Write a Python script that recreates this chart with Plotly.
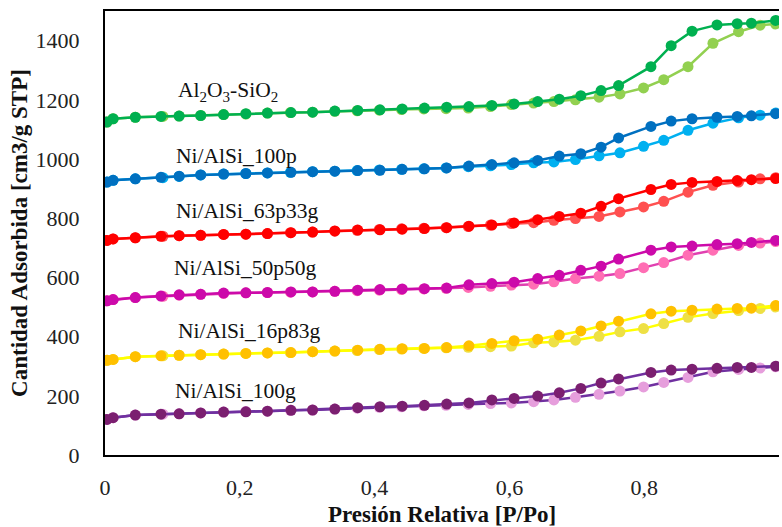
import plotly.graph_objects as go

# Relative pressure points
ads_x = [0.003, 0.012, 0.045, 0.086, 0.110, 0.142, 0.176, 0.209, 0.241, 0.275, 0.308, 0.341,
         0.374, 0.407, 0.440, 0.473, 0.506, 0.539, 0.572, 0.603, 0.636, 0.666, 0.698, 0.733,
         0.764, 0.799, 0.829, 0.865, 0.902, 0.940, 0.972, 0.995]
des_x = [0.995, 0.959, 0.938, 0.908, 0.871, 0.840, 0.810, 0.762, 0.736, 0.706, 0.674, 0.642,
         0.607, 0.574, 0.540, 0.507, 0.474, 0.441, 0.408, 0.375, 0.341, 0.308, 0.276, 0.241,
         0.209, 0.176, 0.142, 0.110, 0.083, 0.045, 0.012, 0.003]

# Adsorption branches
alsi_ads = [1125, 1136, 1141, 1144, 1145, 1147, 1150, 1152, 1155, 1157, 1158, 1161, 1163, 1165, 1167, 1169,
            1170, 1172, 1177, 1184, 1189, 1194, 1200, 1209, 1220, 1240, 1268, 1312, 1391, 1430, 1452, 1456]
p100_ads = [922, 928, 933, 937, 941, 946, 949, 951, 953, 955, 957, 959, 961, 963, 965, 967,
            970, 974, 977, 981, 987, 990, 998, 1011, 1021, 1043, 1063, 1097, 1121, 1139, 1148, 1155]
p63_ads = [725, 730, 734, 739, 741, 742, 745, 746, 748, 751, 753, 756, 759, 762, 764, 766,
           768, 772, 777, 782, 785, 793, 799, 806, 821, 838, 857, 888, 911, 922, 933, 937]
p50_ads = [521, 525, 532, 536, 540, 543, 546, 548, 549, 550, 551, 553, 555, 557, 559, 561,
           563, 566, 570, 574, 577, 585, 596, 604, 613, 633, 650, 675, 692, 708, 716, 721]
p16_ads = [320, 323, 332, 335, 337, 339, 341, 343, 345, 346, 349, 351, 353, 356, 358, 360,
           362, 364, 366, 368, 379, 382, 388, 401, 416, 427, 444, 465, 478, 488, 495, 500]
g100_ads = [120, 126, 135, 138, 139, 142, 145, 147, 148, 151, 152, 155, 158, 161, 163, 166,
            168, 171, 174, 176, 180, 186, 195, 205, 216, 230, 245, 262, 281, 289, 294, 298]

# Desorption branches
alsi_des = [1468, 1459, 1457, 1453, 1432, 1383, 1312, 1248, 1231, 1214, 1202, 1194, 1186, 1181, 1177, 1175,
            1172, 1169, 1166, 1164, 1162, 1158, 1157, 1155, 1153, 1150, 1147, 1145, 1144, 1141, 1136, 1125]
p100_des = [1153, 1146, 1144, 1141, 1136, 1128, 1110, 1071, 1040, 1018, 1010, 995, 987, 981, 976, 970,
            967, 965, 962, 961, 959, 957, 955, 953, 951, 949, 946, 942, 938, 933, 928, 922]
p63_des = [934, 930, 927, 924, 921, 914, 897, 866, 840, 817, 806, 795, 784, 777, 773, 768,
           765, 763, 761, 760, 757, 753, 751, 748, 746, 745, 742, 741, 739, 734, 730, 725]
p50_des = [725, 718, 714, 711, 706, 703, 692, 662, 638, 624, 607, 596, 584, 579, 575, 564,
           562, 561, 559, 557, 553, 551, 551, 549, 548, 547, 543, 541, 537, 532, 525, 521]
p16_des = [505, 496, 495, 493, 489, 486, 477, 452, 436, 419, 405, 391, 386, 377, 369, 363,
           360, 359, 357, 354, 351, 349, 346, 345, 343, 341, 339, 337, 335, 332, 323, 320]
g100_des = [300, 296, 296, 293, 290, 287, 279, 257, 243, 225, 210, 199, 191, 186, 176, 172,
            168, 165, 163, 160, 155, 152, 151, 148, 146, 145, 142, 139, 138, 135, 126, 120]

labels = ["Al<sub>2</sub>O<sub>3</sub>-SiO<sub>2</sub>", "Ni/AlSi_100p", "Ni/AlSi_63p33g",
          "Ni/AlSi_50p50g", "Ni/AlSi_16p83g", "Ni/AlSi_100g"]
label_y = [1228, 1009, 823, 631, 418, 216]
label_x = [0.105, 0.102, 0.102, 0.099, 0.105, 0.101]

x_tickvals = [0, 0.2, 0.4, 0.6, 0.8]
x_ticktext = ["0", "0,2", "0,4", "0,6", "0,8"]
y_tickvals = [0, 200, 400, 600, 800, 1000, 1200, 1400]

# (ads line, ads marker, des line, des marker)
styles = [
    ("#92D050", "#92D050", "#00B050", "#00B050"),
    ("#00B0F0", "#00B0F0", "#0070C0", "#0070C0"),
    ("#FF5050", "#FF5050", "#FF0000", "#FF0000"),
    ("#E040B0", "#FF6EB4", "#CC0AAA", "#CC0AAA"),
    ("#FFFF00", "#EEE045", "#FFFF00", "#FFC000"),
    ("#7030A0", "#E69EDC", "#7030A0", "#7B1F70"),
]
ads_series = [alsi_ads, p100_ads, p63_ads, p50_ads, p16_ads, g100_ads]
des_series = [alsi_des, p100_des, p63_des, p50_des, p16_des, g100_des]

fig = go.Figure()
for (al, am, dl, dm), ya in zip(styles, ads_series):
    fig.add_trace(go.Scatter(x=ads_x, y=ya, mode="lines+markers",
                             line=dict(color=al, width=2.5),
                             marker=dict(color=am, size=11), showlegend=False))
for (al, am, dl, dm), yd in zip(styles, des_series):
    fig.add_trace(go.Scatter(x=des_x, y=yd, mode="lines+markers",
                             line=dict(color=dl, width=2.5),
                             marker=dict(color=dm, size=11), showlegend=False))

serif = "Liberation Serif, Times New Roman, serif"
for t, xv, yv in zip(labels, label_x, label_y):
    fig.add_annotation(text=t, x=xv, xref="paper", y=yv, yref="y", xanchor="left",
                       yanchor="middle", showarrow=False,
                       font=dict(family=serif, size=21.5, color="#111"))

fig.update_layout(
    width=782, height=527,
    margin=dict(l=105, r=3, t=11, b=72),
    paper_bgcolor="white", plot_bgcolor="white",
    font=dict(family=serif, color="#222"),
    xaxis=dict(range=[0, 1], tickvals=x_tickvals, ticktext=x_ticktext,
               showgrid=False, zeroline=False, showline=True, linecolor="black",
               linewidth=2, mirror=True, ticks="", ticklabelstandoff=12,
               tickfont=dict(size=22, family=serif, color="#222"),
               title=dict(text="<b>Presión Relativa [P/Po]</b>", standoff=8,
                          font=dict(size=23, family=serif, color="#111"))),
    yaxis=dict(range=[0, 1500], tickvals=y_tickvals,
               showgrid=False, zeroline=False, showline=True, linecolor="black",
               linewidth=2, ticks="", ticklabelstandoff=19,
               tickfont=dict(size=22, family=serif, color="#222"),
               title=dict(text="<b>Cantidad Adsorbida [cm3/g STP]</b>", standoff=2,
                          font=dict(size=23, family=serif, color="#111"))),
)

fig.write_html("out.html")
